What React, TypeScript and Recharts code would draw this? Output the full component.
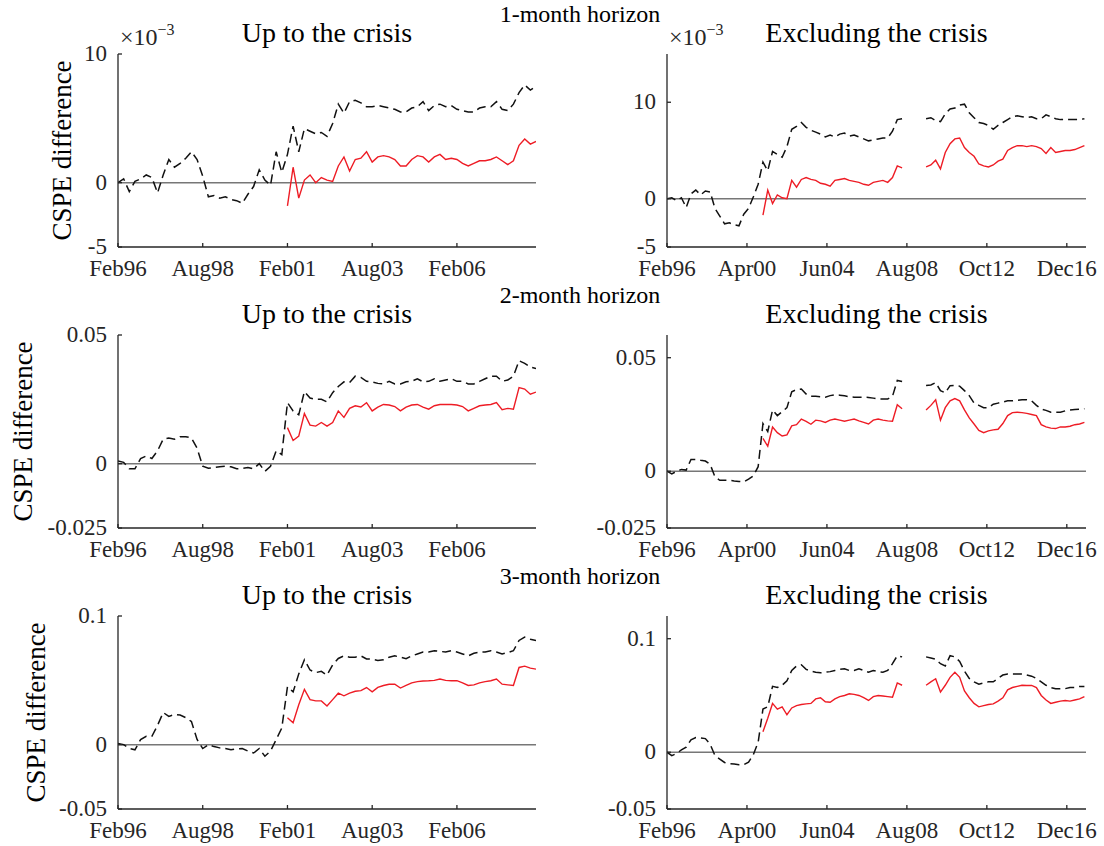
import { LineChart, Line, XAxis, YAxis, ReferenceLine } from "recharts";

const FONT = "'Liberation Serif', 'DejaVu Serif', serif";
const INK = "#262626";
const RED = "#ee1c25";

// months counted from Feb96; left panels sampled every 2 months, right every 3
const LEFT_STEP = 2;
const RIGHT_STEP = 3;
const RED_START = 60; // Feb01

const leftTicks = [0, 30, 60, 90, 120];
const leftTickLabels = ["Feb96", "Aug98", "Feb01", "Aug03", "Feb06"];
const rightTicks = [0, 50, 100, 150, 200, 250];
const rightTickLabels = ["Feb96", "Apr00", "Jun04", "Aug08", "Oct12", "Dec16"];

const horizons = ["1-month horizon", "2-month horizon", "3-month horizon"];
const titles = ["Up to the crisis", "Excluding the crisis"];

// 1-month horizon, in units of 1e-3
const h1UpBlack = [
  0, 0.3, -0.7, 0.1, 0.3, 0.6, 0.4, -0.8, 0.6, 1.8,
  1.2, 1.5, 1.9, 2.4, 1.8, 0.5, -1.1, -1.0, -1.2, -1.1,
  -1.3, -1.4, -1.6, -0.9, -0.3, 1.0, 0.2, -0.2, 2.4, 0.8,
  2.2, 4.4, 2.4, 4.2, 4.0, 3.8, 3.9, 3.6, 4.6, 6.1,
  5.4, 6.3, 6.4, 6.2, 5.9, 5.9, 6.0, 5.9, 5.8, 5.7,
  5.5, 5.5, 5.8, 5.9, 6.3, 5.6, 6.0, 6.1, 5.9, 6.0,
  5.7, 5.6, 5.5, 5.5, 5.8, 5.9, 5.9, 6.3, 5.7, 5.6,
  6.1, 7.0, 7.6, 7.2, 7.5,
];
const h1UpRed = [
  -1.8, 1.2, -1.2, 0.2, 0.6, 0.0, 0.4, 0.2, 0.1, 1.3,
  2.0, 0.9, 1.8, 1.9, 2.4, 1.6, 2.0, 2.1, 2.0, 1.8,
  1.3, 1.3, 1.8, 2.1, 2.0, 1.6, 2.0, 2.2, 1.8, 1.9,
  1.8, 1.5, 1.3, 1.5, 1.7, 1.7, 1.8, 2.0, 1.7, 1.4,
  1.7, 2.9, 3.4, 3.0, 3.2,
];
const h1ExBlack = [
  0, 0.1, -0.2, 0.1, -0.9, 0.5, 0.9, 0.4, 0.8, 0.7,
  -1.0, -1.8, -2.6, -2.5, -2.7, -2.8, -1.6, -1.0, 0.2, 1.5,
  3.8, 2.9, 4.9, 4.6, 4.3, 5.4, 7.2, 7.5, 7.9, 7.4,
  7.1, 6.9, 6.7, 6.4, 6.6, 6.4, 6.7, 6.8, 6.5, 6.6,
  6.4, 6.2, 6.0, 6.1, 6.2, 6.3, 6.3, 7.0, 8.2, 8.3,
  null, null, null, null, 8.3, 8.4, 8.1, 8.0, 8.8, 9.3,
  9.4, 9.7, 9.8, 8.9, 8.4, 7.9, 7.8, 7.6, 7.2, 7.6,
  7.9, 8.2, 8.5, 8.6, 8.5, 8.4, 8.5, 8.3, 8.3, 8.7,
  8.5, 8.3, 8.2, 8.2, 8.2, 8.2, 8.2, 8.3,
];
const h1ExRed = [
  -1.7, 0.9, -0.5, 0.4, 0.1, 0.0, 1.9, 1.2, 2.0, 2.2,
  2.0, 1.9, 1.6, 1.5, 1.3, 1.9, 2.0, 2.1, 1.9, 1.8,
  1.7, 1.5, 1.4, 1.7, 1.8, 1.9, 1.7, 2.2, 3.4, 3.2,
  null, null, null, null, 3.3, 3.5, 4.0, 3.1, 4.8, 5.7,
  6.2, 6.3, 5.3, 4.8, 4.4, 3.6, 3.4, 3.3, 3.5, 3.9,
  4.1, 5.0, 5.3, 5.5, 5.5, 5.4, 5.5, 5.4, 5.2, 4.7,
  5.3, 4.8, 4.9, 5.0, 5.0, 5.1, 5.3, 5.5,
];

// 2-month horizon
const h2UpBlack = [
  0.001, 0.0005, -0.002, -0.002, 0.002, 0.003, 0.002, 0.005, 0.0095, 0.01,
  0.0095, 0.0105, 0.0105, 0.01, 0.006, -0.001, -0.0018, -0.0015, -0.0012, -0.001,
  -0.0012, -0.002, -0.0018, -0.0015, -0.002, 0.0, -0.003, -0.001, 0.005, 0.0035,
  0.0237, 0.0205, 0.019, 0.028, 0.0255, 0.025, 0.025, 0.024, 0.0276, 0.03,
  0.0318, 0.0315, 0.034, 0.0335, 0.032, 0.0318, 0.0312, 0.031, 0.032, 0.031,
  0.031, 0.0318, 0.032, 0.033, 0.0318, 0.032, 0.033, 0.032, 0.0325, 0.033,
  0.032, 0.032, 0.031, 0.031, 0.032, 0.033, 0.034, 0.034, 0.032, 0.0325,
  0.034, 0.04, 0.039, 0.0375, 0.037,
];
const h2UpRed = [
  0.014, 0.009, 0.0107, 0.0195, 0.015, 0.0146, 0.016, 0.0146, 0.016, 0.0205,
  0.018, 0.0215, 0.0225, 0.022, 0.0237, 0.0205, 0.022, 0.023, 0.0228, 0.0222,
  0.0205, 0.022, 0.0228, 0.023, 0.022, 0.0212, 0.0225, 0.023, 0.023, 0.023,
  0.0228, 0.0222, 0.0205, 0.0215, 0.0225, 0.0228, 0.023, 0.0237, 0.021, 0.0215,
  0.0212, 0.0296, 0.029, 0.027, 0.0278,
];
const h2ExBlack = [
  0, -0.0012, 0.0, 0.0008, 0.0005, 0.0052, 0.0052, 0.0048, 0.0045, 0.003,
  -0.0025, -0.004, -0.004, -0.004, -0.0043, -0.0045, -0.0047, -0.0035, -0.002, 0.002,
  0.021, 0.0175, 0.027, 0.0245, 0.0262, 0.028, 0.035, 0.036, 0.0362, 0.034,
  0.033, 0.033, 0.0328, 0.0326, 0.0333, 0.0337, 0.0335, 0.0332, 0.0328, 0.0326,
  0.0326, 0.0326, 0.0325, 0.0322, 0.0318, 0.0318, 0.0318, 0.033, 0.04, 0.0395,
  null, null, null, null, 0.0378, 0.038, 0.039, 0.0355, 0.0345, 0.0377,
  0.0378, 0.0375, 0.0355, 0.0333, 0.03, 0.029, 0.028, 0.028, 0.0295, 0.03,
  0.0305, 0.031, 0.031, 0.0312, 0.0315, 0.0315, 0.031, 0.029, 0.0274, 0.0268,
  0.026, 0.026, 0.026, 0.0266, 0.027, 0.0272, 0.0273, 0.0275,
];
const h2ExRed = [
  0.0145, 0.011, 0.0195, 0.017, 0.0155, 0.016, 0.02, 0.0205, 0.023, 0.022,
  0.0207, 0.0225, 0.0222, 0.0215, 0.0225, 0.023, 0.0225, 0.022, 0.0225, 0.023,
  0.0222, 0.0215, 0.0208, 0.0225, 0.023, 0.0225, 0.0222, 0.022, 0.0293, 0.0275,
  null, null, null, null, 0.027, 0.029, 0.0315, 0.0225, 0.028, 0.031,
  0.032, 0.031, 0.027, 0.0235, 0.0208, 0.018, 0.017, 0.0178, 0.0182, 0.0185,
  0.021, 0.0245, 0.0258, 0.026, 0.0258, 0.0255, 0.025, 0.0245, 0.0205, 0.0195,
  0.019, 0.0188, 0.0195, 0.0195, 0.0198, 0.0205, 0.0208, 0.0215,
];

// 3-month horizon
const h3UpBlack = [
  0.001, 0.0, -0.003, -0.004, 0.004, 0.0065, 0.0065, 0.015, 0.025, 0.022,
  0.0235, 0.023, 0.021, 0.018, 0.004, -0.003, 0.0, -0.0015, -0.0025, -0.003,
  -0.004, -0.0032, -0.003, -0.005, -0.0065, -0.003, -0.009, -0.005, 0.004, 0.013,
  0.045, 0.041, 0.055, 0.066, 0.058, 0.056, 0.057, 0.054, 0.062, 0.067,
  0.069, 0.068, 0.068, 0.069, 0.0666, 0.0665, 0.0655, 0.066, 0.068, 0.069,
  0.068, 0.0668, 0.069, 0.0705, 0.072, 0.072, 0.073, 0.0725, 0.072, 0.073,
  0.072, 0.0705, 0.069, 0.071, 0.072, 0.072, 0.073, 0.072, 0.0705, 0.0715,
  0.073, 0.081, 0.0836, 0.082, 0.081,
];
const h3UpRed = [
  0.021, 0.017, 0.031, 0.043, 0.035, 0.034, 0.034, 0.03, 0.035, 0.04,
  0.038, 0.04, 0.0415, 0.042, 0.0444, 0.041, 0.0445, 0.046, 0.047, 0.047,
  0.044, 0.046, 0.048, 0.049, 0.0495, 0.0497, 0.05, 0.051, 0.05, 0.0497,
  0.0497, 0.048, 0.046, 0.0465, 0.048, 0.049, 0.0497, 0.051, 0.047, 0.0465,
  0.046, 0.06, 0.061, 0.0595, 0.0587,
];
const h3ExBlack = [
  0, -0.003, -0.001, 0.002, 0.0044, 0.011, 0.013, 0.0125, 0.012, 0.007,
  -0.003, -0.006, -0.009, -0.01, -0.0103, -0.011, -0.011, -0.0088, -0.002, 0.0088,
  0.038, 0.04, 0.058, 0.057, 0.059, 0.063, 0.072, 0.076, 0.077, 0.073,
  0.0715, 0.0705, 0.07, 0.0705, 0.071, 0.072, 0.073, 0.0735, 0.072, 0.072,
  0.0735, 0.072, 0.0705, 0.072, 0.071, 0.0705, 0.072, 0.078, 0.085, 0.084,
  null, null, null, null, 0.084, 0.083, 0.082, 0.078, 0.076, 0.085,
  0.084, 0.08, 0.0715, 0.065, 0.062, 0.06, 0.061, 0.062, 0.062, 0.065,
  0.068, 0.069, 0.069, 0.069, 0.069, 0.068, 0.067, 0.065, 0.062, 0.059,
  0.057, 0.056, 0.056, 0.056, 0.057, 0.057, 0.058, 0.058,
];
const h3ExRed = [
  0.018, 0.03, 0.043, 0.038, 0.04, 0.033, 0.039, 0.041, 0.042, 0.0426,
  0.043, 0.047, 0.048, 0.0445, 0.044, 0.047, 0.049, 0.05, 0.0515, 0.051,
  0.05, 0.048, 0.0456, 0.049, 0.05, 0.0495, 0.049, 0.0485, 0.061, 0.059,
  null, null, null, null, 0.059, 0.062, 0.0647, 0.053, 0.059, 0.066,
  0.0705, 0.066, 0.054, 0.048, 0.043, 0.04, 0.041, 0.042, 0.0426, 0.045,
  0.048, 0.055, 0.057, 0.058, 0.059, 0.0588, 0.0588, 0.057, 0.05, 0.046,
  0.043, 0.044, 0.045, 0.0456, 0.045, 0.046, 0.047, 0.049,
];

type Row = { m: number; b: number | null; r: number | null };

const buildRows = (step: number, black: (number | null)[], red: (number | null)[]): Row[] =>
  black.map((b, k) => {
    const m = k * step;
    const j = (m - RED_START) / step;
    return { m, b, r: m >= RED_START ? red[j] ?? null : null };
  });

// geometry of the plot boxes
const COL_X = [118, 667];
const COL_W = [418, 419];
const ROW_Y = [54, 335, 616];
const BOX_H = 193;
const YAXIS_W = 80;
const PAD_T = 15;
const PAD_R = 30;
const TICK_FS = 23;

type PanelProps = {
  x: number;
  y: number;
  w: number;
  rows: Row[];
  xMax: number;
  ticks: number[];
  tickLabels: string[];
  yDomain: [number, number];
  yTicks: number[];
};

function Panel({ x, y, w, rows, xMax, ticks, tickLabels, yDomain, yTicks }: PanelProps) {
  const line = { stroke: INK, strokeWidth: 1.3 };
  const txt = { fontFamily: FONT, fontSize: TICK_FS };
  // eslint-disable-next-line @typescript-eslint/no-explicit-any
  const xTick = (props: any) => (
    <text x={props.x} y={props.y} dy={33} textAnchor="middle" fill={INK} style={txt}>
      {tickLabels[ticks.indexOf(props.payload.value)] ?? ""}
    </text>
  );
  // eslint-disable-next-line @typescript-eslint/no-explicit-any
  const yTick = (props: any) => (
    <text x={props.x} y={props.y} dx={-15} dy={7} textAnchor="end" fill={INK} style={txt}>
      {String(props.payload.value)}
    </text>
  );
  return (
    <div style={{ position: "absolute", left: x - YAXIS_W, top: y - PAD_T }}>
      <LineChart width={w + YAXIS_W + PAD_R} height={BOX_H + PAD_T + 45} data={rows}
        margin={{ top: PAD_T, right: PAD_R, bottom: 0, left: 0 }}>
        <XAxis dataKey="m" type="number" domain={[0, xMax]} ticks={ticks} interval={0}
          allowDataOverflow height={45} tickSize={-4} tickMargin={0}
          axisLine={line} tickLine={line} tick={xTick} />
        <XAxis xAxisId="t" orientation="top" dataKey="m" type="number" domain={[0, xMax]}
          ticks={ticks} interval={0} allowDataOverflow height={0} tickSize={-4}
          axisLine={line} tickLine={line} tick={false} />
        <YAxis type="number" domain={yDomain} ticks={yTicks} interval={0} allowDataOverflow
          width={YAXIS_W} tickSize={-4} tickMargin={0} axisLine={line} tickLine={line}
          tick={yTick} />
        <YAxis yAxisId="r" orientation="right" type="number" domain={yDomain} ticks={yTicks}
          interval={0} allowDataOverflow width={0} tickSize={-4} axisLine={line}
          tickLine={line} tick={false} />
        <ReferenceLine y={0} stroke="#777777" strokeWidth={1.5} />
        <Line xAxisId="t" yAxisId="r" dataKey="b" stroke="none" dot={false}
          activeDot={false} isAnimationActive={false} />
        <Line dataKey="b" stroke="#111111" strokeWidth={1.5} strokeDasharray="9 5"
          dot={false} activeDot={false} isAnimationActive={false} />
        <Line dataKey="r" stroke={RED} strokeWidth={1.4} dot={false}
          activeDot={false} isAnimationActive={false} />
      </LineChart>
    </div>
  );
}

const panels = [
  { up: buildRows(LEFT_STEP, h1UpBlack, h1UpRed), ex: buildRows(RIGHT_STEP, h1ExBlack, h1ExRed),
    upDom: [-5, 10] as [number, number], exDom: [-5, 15] as [number, number], yTicks: [-5, 0, 10] },
  { up: buildRows(LEFT_STEP, h2UpBlack, h2UpRed), ex: buildRows(RIGHT_STEP, h2ExBlack, h2ExRed),
    upDom: [-0.025, 0.05] as [number, number], exDom: [-0.025, 0.06] as [number, number], yTicks: [-0.025, 0, 0.05] },
  { up: buildRows(LEFT_STEP, h3UpBlack, h3UpRed), ex: buildRows(RIGHT_STEP, h3ExBlack, h3ExRed),
    upDom: [-0.05, 0.1] as [number, number], exDom: [-0.05, 0.12] as [number, number], yTicks: [-0.05, 0, 0.1] },
];

const YLABEL_X = [62, 23, 36];

export default function App() {
  return (
    <div style={{ position: "absolute", left: 0, top: 0, width: 1104, height: 846, background: "#fff", overflow: "hidden", fontFamily: FONT }}>
      {panels.map((p, i) => (
        <div key={i}>
          <Panel x={COL_X[0]} y={ROW_Y[i]} w={COL_W[0]} rows={p.up} xMax={148}
            ticks={leftTicks} tickLabels={leftTickLabels} yDomain={p.upDom} yTicks={p.yTicks} />
          <Panel x={COL_X[1]} y={ROW_Y[i]} w={COL_W[1]} rows={p.ex} xMax={262}
            ticks={rightTicks} tickLabels={rightTickLabels} yDomain={p.exDom} yTicks={p.yTicks} />
        </div>
      ))}
      <svg width={1104} height={846} style={{ position: "absolute", left: 0, top: 0, pointerEvents: "none" }}
        fontFamily={FONT} fill="#000">
        {horizons.map((h, i) => (
          <text key={h} x={580} y={ROW_Y[i] - 32} fontSize={24} textAnchor="middle">{h}</text>
        ))}
        {ROW_Y.map((y, i) => (
          <g key={i}>
            <text x={COL_X[0] + COL_W[0] / 2} y={y - 12} fontSize={28} textAnchor="middle">{titles[0]}</text>
            <text x={COL_X[1] + COL_W[1] / 2} y={y - 12} fontSize={28} textAnchor="middle">{titles[1]}</text>
            <text transform={`translate(${YLABEL_X[i]}, ${y + BOX_H / 2}) rotate(-90)`} fontSize={27}
              textAnchor="middle" dominantBaseline="central">CSPE difference</text>
          </g>
        ))}
        {COL_X.map((x) => (
          <text key={x} x={x + 2} y={ROW_Y[0] - 9} fontSize={24} fill={INK}>
            ×10<tspan dy={-10} fontSize={16}>−3</tspan>
          </text>
        ))}
      </svg>
    </div>
  );
}
